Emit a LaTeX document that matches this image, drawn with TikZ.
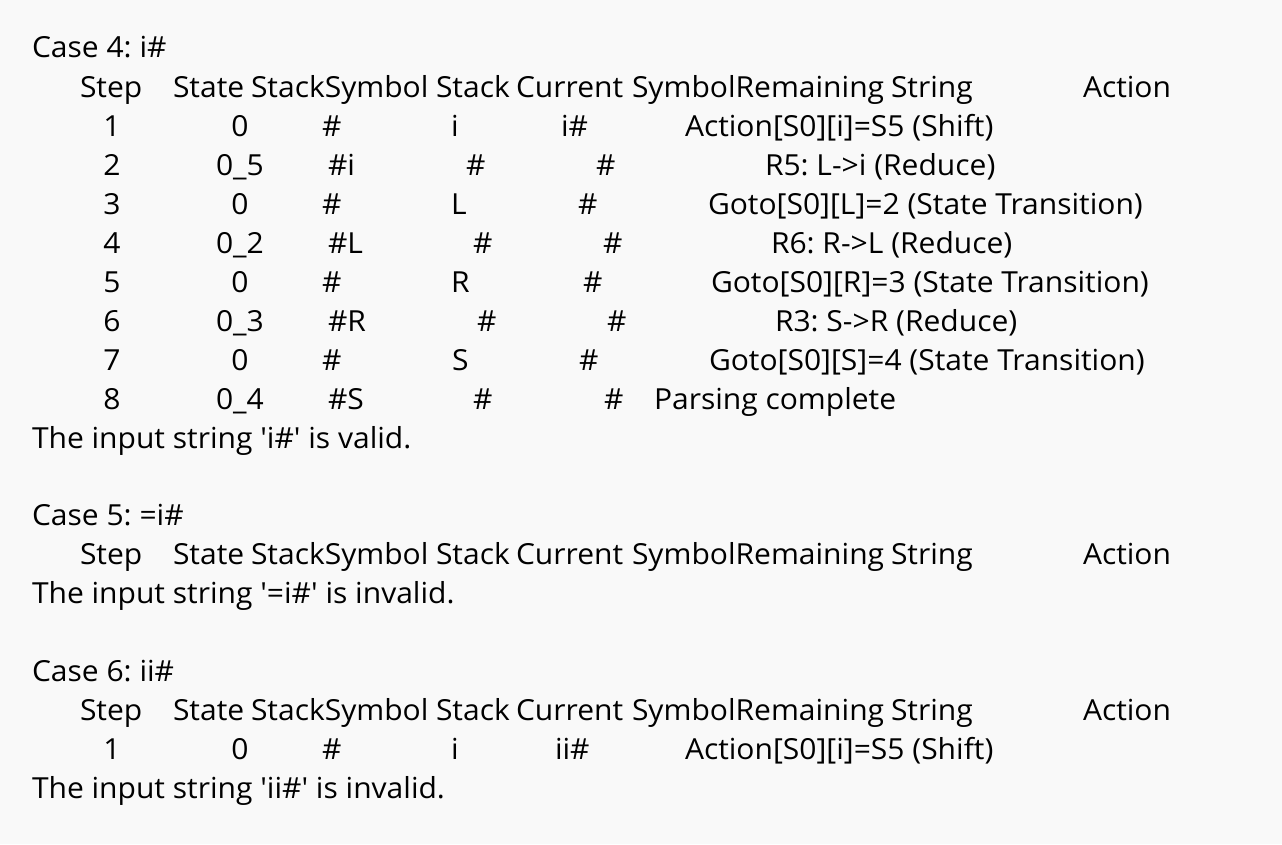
\documentclass[tikz,border=0pt]{standalone}
\usepackage{fontspec}
\setmainfont{Open Sans}[Ligatures=TeXOff,FakeStretch=1.035]
\frenchspacing
\definecolor{bg}{RGB}{249,249,249}
\begin{document}
\begin{tikzpicture}[x=1pt,y=-1pt,
  txt/.style={anchor=base west,inner sep=0pt,outer sep=0pt,font=\frenchspacing\fontsize{29}{34}\selectfont,text=black},
  num/.style={anchor=base,inner sep=0pt,outer sep=0pt,font=\frenchspacing\fontsize{29}{34}\selectfont,text=black}]
\fill[bg] (0,0) rectangle (1282,844);
\useasboundingbox (0,0) rectangle (1282,844);
% ---------- Case 4
\node[txt] (c4) at (32,57) {Case 4: i\#};
\node[txt] (h4a) at (80,97) {Step};
\node[txt] (h4b) at (173,97) {State};
\node[txt] (h4c) at (251,97) {StackSymbol};
\node[txt] (h4d) at (436,97) {Stack};
\node[txt] (h4e) at (516,97) {Current};
\node[txt] (h4f) at (632,97) {SymbolRemaining};
\node[txt] (h4g) at (891,97) {String};
\node[txt] (h4h) at (1083,97) {Action};
% row 1
\node[num] (r1a) at (112,136) {1};
\node[num] (r1b) at (240,136) {0};
\node[txt] (r1c) at (322,136) {\#};
\node[txt] (r1d) at (451,136) {i};
\node[txt] (r1e) at (561,136) {i\#};
\node[txt] (r1f) at (685,136) {Action[S0][i]=S5 (Shift)};
% row 2
\node[num] (r2a) at (112,175) {2};
\node[txt] (r2b) at (216,175) {0\_5};
\node[txt] (r2c) at (328,175) {\#i};
\node[txt] (r2d) at (466,175) {\#};
\node[txt] (r2e) at (596,175) {\#};
\node[txt] (r2f) at (765,175) {R5: L->i (Reduce)};
% row 3
\node[num] (r3a) at (112,214) {3};
\node[num] (r3b) at (240,214) {0};
\node[txt] (r3c) at (322,214) {\#};
\node[txt] (r3d) at (451,214) {L};
\node[txt] (r3e) at (578,214) {\#};
\node[txt] (r3f) at (708,214) {Goto[S0][L]=2 (State Transition)};
% row 4
\node[num] (r4a) at (112,253) {4};
\node[txt] (r4b) at (216,253) {0\_2};
\node[txt] (r4c) at (328,253) {\#L};
\node[txt] (r4d) at (473,253) {\#};
\node[txt] (r4e) at (603,253) {\#};
\node[txt] (r4f) at (771,253) {R6: R->L (Reduce)};
% row 5
\node[num] (r5a) at (112,292) {5};
\node[num] (r5b) at (240,292) {0};
\node[txt] (r5c) at (322,292) {\#};
\node[txt] (r5d) at (451,292) {R};
\node[txt] (r5e) at (583,292) {\#};
\node[txt] (r5f) at (711,292) {Goto[S0][R]=3 (State Transition)};
% row 6
\node[num] (r6a) at (112,331) {6};
\node[txt] (r6b) at (216,331) {0\_3};
\node[txt] (r6c) at (328,331) {\#R};
\node[txt] (r6d) at (477,331) {\#};
\node[txt] (r6e) at (607,331) {\#};
\node[txt] (r6f) at (775,331) {R3: S->R (Reduce)};
% row 7
\node[num] (r7a) at (112,370) {7};
\node[num] (r7b) at (240,370) {0};
\node[txt] (r7c) at (322,370) {\#};
\node[txt] (r7d) at (452,370) {S};
\node[txt] (r7e) at (579,370) {\#};
\node[txt] (r7f) at (709,370) {Goto[S0][S]=4 (State Transition)};
% row 8
\node[num] (r8a) at (112,409) {8};
\node[txt] (r8b) at (216,409) {0\_4};
\node[txt] (r8c) at (328,409) {\#S};
\node[txt] (r8d) at (473,409) {\#};
\node[txt] (r8e) at (604,409) {\#};
\node[txt] (r8f) at (654,409) {Parsing complete};
\node[txt] (v4) at (32,448) {The input string 'i\#' is valid.};
% ---------- Case 5
\node[txt] (c5) at (32,525) {Case 5: =i\#};
\node[txt] (h5a) at (80,564) {Step};
\node[txt] (h5b) at (173,564) {State};
\node[txt] (h5c) at (251,564) {StackSymbol};
\node[txt] (h5d) at (436,564) {Stack};
\node[txt] (h5e) at (516,564) {Current};
\node[txt] (h5f) at (632,564) {SymbolRemaining};
\node[txt] (h5g) at (891,564) {String};
\node[txt] (h5h) at (1083,564) {Action};
\node[txt] (v5) at (32,603) {The input string '=i\#' is invalid.};
% ---------- Case 6
\node[txt] (c6) at (32,681) {Case 6: ii\#};
\node[txt] (h6a) at (80,720) {Step};
\node[txt] (h6b) at (173,720) {State};
\node[txt] (h6c) at (251,720) {StackSymbol};
\node[txt] (h6d) at (436,720) {Stack};
\node[txt] (h6e) at (516,720) {Current};
\node[txt] (h6f) at (632,720) {SymbolRemaining};
\node[txt] (h6g) at (891,720) {String};
\node[txt] (h6h) at (1083,720) {Action};
\node[num] (s1a) at (112,759) {1};
\node[num] (s1b) at (240,759) {0};
\node[txt] (s1c) at (322,759) {\#};
\node[txt] (s1d) at (451,759) {i};
\node[txt] (s1e) at (555,759) {ii\#};
\node[txt] (s1f) at (685,759) {Action[S0][i]=S5 (Shift)};
\node[txt] (v6) at (32,798) {The input string 'ii\#' is invalid.};
\end{tikzpicture}
\end{document}
